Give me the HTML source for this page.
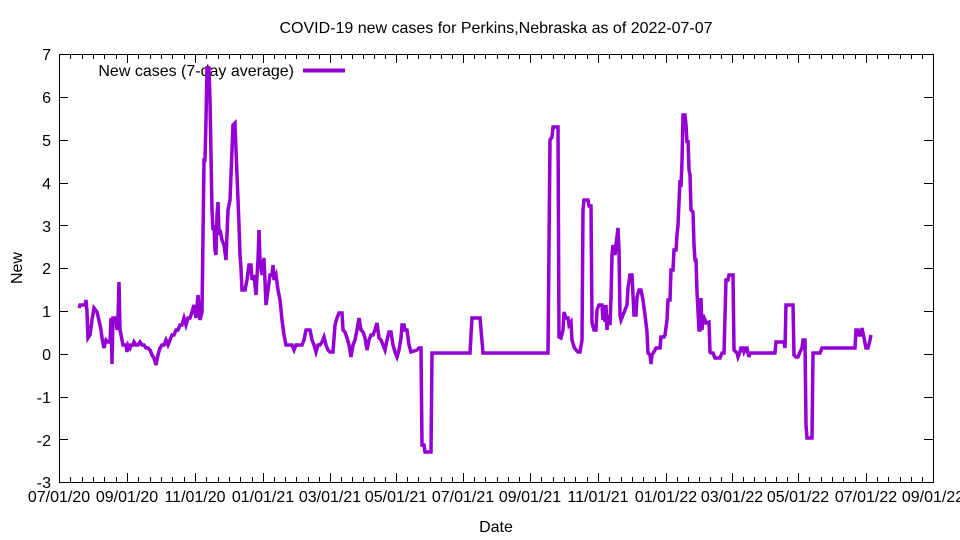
<!DOCTYPE html>
<html><head><meta charset="utf-8"><style>body{margin:0;background:#fff}svg{display:block}text{font-family:"Liberation Sans",sans-serif;font-size:16px;fill:#000}</style></head>
<body>
<svg width="960" height="540" viewBox="0 0 960 540" xmlns="http://www.w3.org/2000/svg">
<rect x="59.5" y="54.5" width="874" height="428" fill="none" stroke="#000" stroke-width="1"/>
<path stroke="#000" stroke-width="1" fill="none" d="M59 54.5h9M924 54.5h9M59 97.5h9M924 97.5h9M59 140.5h9M924 140.5h9M59 183.5h9M924 183.5h9M59 225.5h9M924 225.5h9M59 268.5h9M924 268.5h9M59 311.5h9M924 311.5h9M59 354.5h9M924 354.5h9M59 397.5h9M924 397.5h9M59 439.5h9M924 439.5h9
M127.5 482v-9M127.5 54v9M195.5 482v-9M195.5 54v9M263.5 482v-9M263.5 54v9M330.5 482v-9M330.5 54v9M396.5 482v-9M396.5 54v9M463.5 482v-9M463.5 54v9M530.5 482v-9M530.5 54v9M598.5 482v-9M598.5 54v9M666.5 482v-9M666.5 54v9M732.5 482v-9M732.5 54v9M798.5 482v-9M798.5 54v9M866.5 482v-9M866.5 54v9
M70.5 482v-5M82.5 482v-5M93.5 482v-5M104.5 482v-5M116.5 482v-5M138.5 482v-5M150.5 482v-5M161.5 482v-5M172.5 482v-5M184.5 482v-5M206.5 482v-5M218.5 482v-5M229.5 482v-5M240.5 482v-5M252.5 482v-5M274.5 482v-5M285.5 482v-5M296.5 482v-5M308.5 482v-5M319.5 482v-5M341.5 482v-5M352.5 482v-5M363.5 482v-5M374.5 482v-5M385.5 482v-5M407.5 482v-5M418.5 482v-5M430.5 482v-5M441.5 482v-5M452.5 482v-5M474.5 482v-5M485.5 482v-5M497.5 482v-5M508.5 482v-5M519.5 482v-5M541.5 482v-5M553.5 482v-5M564.5 482v-5M575.5 482v-5M587.5 482v-5M609.5 482v-5M621.5 482v-5M632.5 482v-5M643.5 482v-5M655.5 482v-5M677.5 482v-5M688.5 482v-5M699.5 482v-5M710.5 482v-5M721.5 482v-5M743.5 482v-5M754.5 482v-5M765.5 482v-5M776.5 482v-5M787.5 482v-5M809.5 482v-5M821.5 482v-5M832.5 482v-5M843.5 482v-5M855.5 482v-5M877.5 482v-5M888.5 482v-5M900.5 482v-5M911.5 482v-5M922.5 482v-5
M70.5 54v5M82.5 54v5M93.5 54v5M104.5 54v5M116.5 54v5M138.5 54v5M150.5 54v5M161.5 54v5M172.5 54v5M184.5 54v5M206.5 54v5M218.5 54v5M229.5 54v5M240.5 54v5M252.5 54v5M274.5 54v5M285.5 54v5M296.5 54v5M308.5 54v5M319.5 54v5M341.5 54v5M352.5 54v5M363.5 54v5M374.5 54v5M385.5 54v5M407.5 54v5M418.5 54v5M430.5 54v5M441.5 54v5M452.5 54v5M474.5 54v5M485.5 54v5M497.5 54v5M508.5 54v5M519.5 54v5M541.5 54v5M553.5 54v5M564.5 54v5M575.5 54v5M587.5 54v5M609.5 54v5M621.5 54v5M632.5 54v5M643.5 54v5M655.5 54v5M677.5 54v5M688.5 54v5M699.5 54v5M710.5 54v5M721.5 54v5M743.5 54v5M754.5 54v5M765.5 54v5M776.5 54v5M787.5 54v5M809.5 54v5M821.5 54v5M832.5 54v5M843.5 54v5M855.5 54v5M877.5 54v5M888.5 54v5M900.5 54v5M911.5 54v5M922.5 54v5"/>
<g text-anchor="end">
<text x="51" y="60">7</text><text x="51" y="103">6</text><text x="51" y="146">5</text><text x="51" y="189">4</text><text x="51" y="232">3</text><text x="51" y="274">2</text><text x="51" y="317">1</text><text x="51" y="360">0</text><text x="51" y="403">-1</text><text x="51" y="446">-2</text><text x="51" y="488">-3</text>
</g>
<g text-anchor="middle">
<text x="59" y="502">07/01/20</text><text x="127" y="502">09/01/20</text><text x="195" y="502">11/01/20</text><text x="263" y="502">01/01/21</text><text x="330" y="502">03/01/21</text><text x="396" y="502">05/01/21</text><text x="463" y="502">07/01/21</text><text x="530" y="502">09/01/21</text><text x="598" y="502">11/01/21</text><text x="666" y="502">01/01/22</text><text x="732" y="502">03/01/22</text><text x="798" y="502">05/01/22</text><text x="866" y="502">07/01/22</text><text x="933" y="502">09/01/22</text>
<text x="496" y="532">Date</text>
<text x="496" y="33">COVID-19 new cases for Perkins,Nebraska as of 2022-07-07</text>
</g>
<text x="22" y="268" text-anchor="middle" transform="rotate(-90 22 268)">New</text>
<text x="294" y="76" text-anchor="end">New cases (7-day average)</text>
<line x1="303" y1="70.5" x2="345" y2="70.5" stroke="#9400d3" stroke-width="4"/>
<polyline fill="none" stroke="#9400d3" stroke-width="3.5" stroke-linejoin="miter" points="79,308 80,305 85,305 86,300 87,312 88,338 90,335 92,320 94,308 97,312 100,325 101,330 102,338 104,348 106,340 108,342 110,342 111,318 112,364 113,318 116,318 117,330 118,318 119,282 120,330 122,340 123,345 126,345 127,352 128,345 130,348 131,345 133,345 134,342 136,345 138,345 140,342 142,345 144,345 146,348 148,348 150,350 152,355 154,358 156,365 158,355 160,348 162,345 164,345 166,340 168,345 170,340 172,335 174,335 176,330 178,330 180,325 182,325 184,318 186,325 188,318 190,318 192,312 194,305 196,318 198,295 200,320 202,312 204,160 205,160 206,120 207,68 209,68 210,100 211,155 212,210 213,230 214,225 215,250 216,255 217,215 218,202 219,235 220,230 222,240 224,245 226,260 228,210 230,200 232,150 233,125 235,123 236,150 237,175 238,200 239,225 240,255 241,268 242,290 245,290 247,280 249,265 251,265 252,280 254,275 256,295 258,260 259,230 260,260 262,275 264,258 266,305 268,290 270,275 272,275 273,265 274,280 276,275 278,290 280,300 282,320 284,335 286,345 292,345 294,350 296,345 302,345 304,340 306,330 310,330 312,340 314,345 316,352 318,345 320,345 322,342 324,337 326,345 328,350 330,352 333,352 335,325 337,318 339,313 342,313 343,330 345,332 347,338 349,345 351,357 353,345 355,340 357,330 359,318 361,330 363,332 365,338 367,350 369,340 371,335 373,335 375,330 377,323 379,338 381,340 383,345 385,350 387,340 389,332 391,332 393,345 395,352 397,357 399,350 401,338 402,325 404,325 405,330 407,330 409,345 411,352 417,350 419,348 421,348 422,445 424,445 425,452 431,452 432,353 470,353 472,318 480,318 483,353 548,353 550,140 552,137 553,127 558,127 559,337 561,338 563,330 564,312 566,318 568,318 569,325 571,322 572,340 574,347 576,350 578,352 580,352 582,340 583,210 584,200 588,200 589,206 591,206 592,323 594,330 596,330 597,310 599,305 602,305 603,320 604,305 605,322 606,305 607,330 608,315 610,325 611,298 612,255 613,245 615,255 616,245 618,228 619,250 620,315 621,320 623,315 625,310 627,305 628,288 630,275 632,275 634,315 636,315 637,297 639,290 641,290 643,300 645,315 647,332 648,353 650,355 651,364 652,355 655,350 656,348 660,348 661,337 664,337 665,335 667,320 668,300 670,300 671,270 673,270 674,250 676,250 677,235 678,225 680,180 681,187 682,162 683,115 685,115 686,125 687,143 688,140 689,170 690,175 691,210 693,212 694,245 695,260 696,260 697,292 699,330 700,330 701,298 702,330 703,315 705,320 706,323 709,322 710,352 711,353 713,353 715,358 720,358 722,353 724,353 726,280 728,280 729,275 733,275 734,350 736,352 737,353 738,357 740,352 741,348 743,348 744,352 746,348 747,348 748,353 749,357 750,353 775,353 776,342 784,342 785,348 786,305 793,305 794,355 796,357 798,357 800,352 802,348 803,340 805,340 806,425 807,438 812,438 813,353 820,353 822,348 855,348 856,330 858,330 859,335 861,335 862,328 864,338 866,348 868,348 870,340 871,335"/>
</svg>
</body></html>
